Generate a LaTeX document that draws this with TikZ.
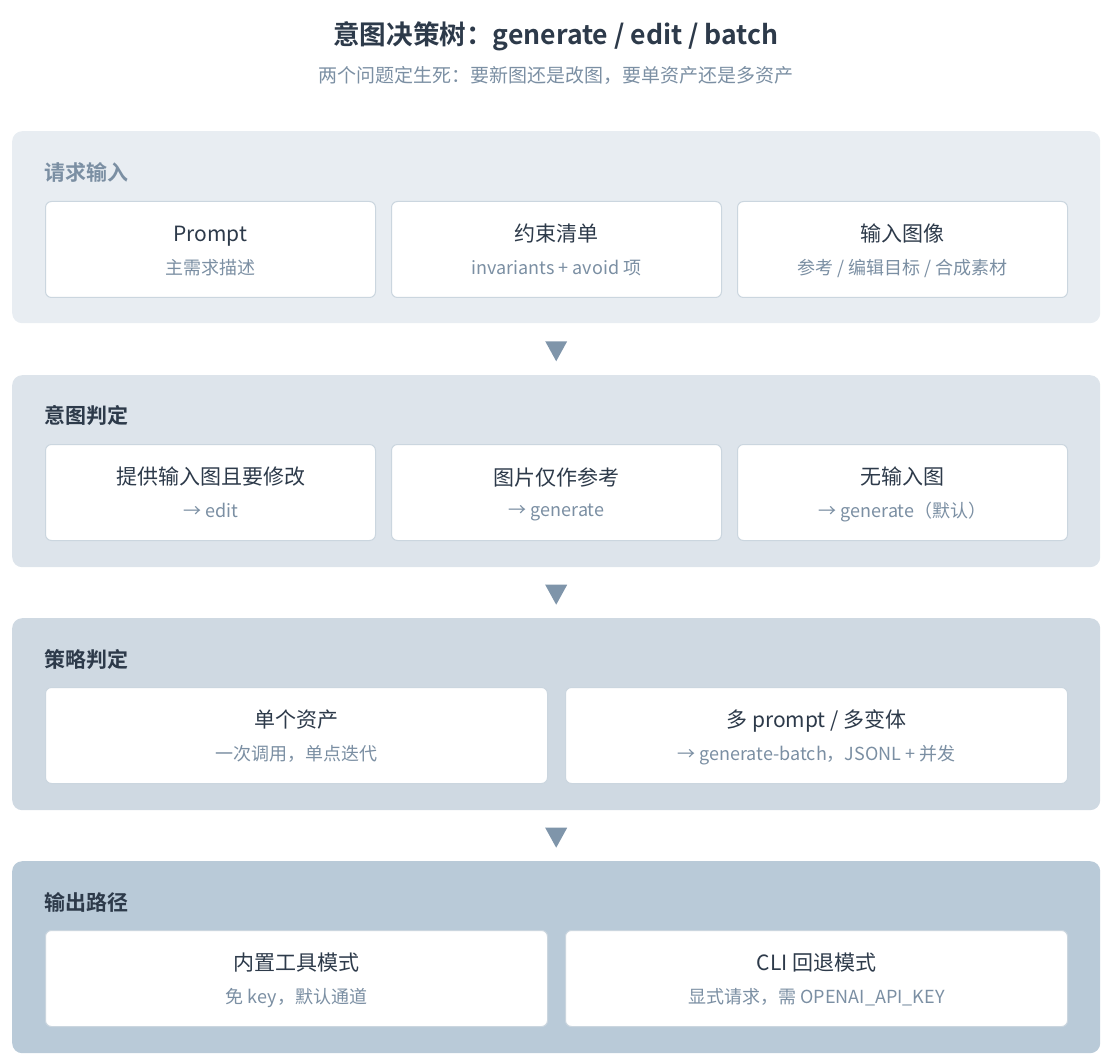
\documentclass[tikz,border=0pt]{standalone}
\usepackage{fontspec}
\setmainfont{Noto Sans CJK SC}[BoldFont={Noto Sans CJK SC Bold}]
\definecolor{ink}{HTML}{2D3A4A}
\definecolor{sub}{HTML}{7B8FA3}
\definecolor{cardline}{HTML}{CBD6DF}
\definecolor{pone}{HTML}{E8EDF2}
\definecolor{ptwo}{HTML}{DDE4EB}
\definecolor{pthree}{HTML}{CFD9E2}
\definecolor{pfour}{HTML}{B9CAD8}
\definecolor{arrowc}{HTML}{7F95AA}
\tikzset{
  panel/.style={fill=#1,rounded corners=10pt,minimum width=1088pt,minimum height=192pt,anchor=north west,inner sep=0pt},
  card/.style={draw=cardline,line width=1pt,fill=white,rounded corners=6pt,minimum height=96pt,anchor=north west,inner sep=0pt,align=center},
  lab/.style={anchor=west,inner sep=0pt,font=\bfseries\fontsize{21}{24}\selectfont,text=ink},
}
\newcommand{\ct}[2]{{\color{ink}\fontsize{21}{25}\selectfont\rule[-6pt]{0pt}{28pt}#1}\\[11pt]{\color{sub}\fontsize{18}{22}\selectfont\rule[-5pt]{0pt}{16pt}#2}}
\begin{document}
\begin{tikzpicture}[x=1pt,y=-1pt]
\useasboundingbox (0,0) rectangle (1110,1064);
\node[font=\bfseries\fontsize{26.6}{30}\selectfont,text=ink] (title) at (556,36) {意图决策树：generate / edit / batch};
\node[font=\fontsize{19}{22}\selectfont,text=sub] (subtitle) at (556,75) {两个问题定生死：要新图还是改图，要单资产还是多资产};
%panels
\node[panel=pone] (p1) at (12,131) {};
\node[panel=ptwo] (p2) at (12,375) {};
\node[panel=pthree] (p3) at (12,618) {};
\node[panel=pfour] (p4) at (12,861) {};
\node[lab,text=sub] (l1) at (44,172) {请求输入};
\node[lab] (l2) at (44,415) {意图判定};
\node[lab] (l3) at (44,659) {策略判定};
\node[lab] (l4) at (44,902) {输出路径};
%cards
\node[card,minimum width=330pt] (c11) at (45,201) {\ct{Prompt}{主需求描述}};
\node[card,minimum width=330pt] (c12) at (391,201) {\ct{约束清单}{invariants + avoid 项}};
\node[card,minimum width=330pt] (c13) at (737,201) {\ct{输入图像}{参考 / 编辑目标 / 合成素材}};
\node[card,minimum width=330pt] (c21) at (45,444) {\ct{提供输入图且要修改}{→ edit}};
\node[card,minimum width=330pt] (c22) at (391,444) {\ct{图片仅作参考}{→ generate}};
\node[card,minimum width=330pt] (c23) at (737,444) {\ct{无输入图}{→ generate（默认）}};
\node[card,minimum width=502pt] (c31) at (45,687) {\ct{单个资产}{一次调用，单点迭代}};
\node[card,minimum width=502pt] (c32) at (565,687) {\ct{多 prompt / 多变体}{→ generate-batch，JSONL + 并发}};
\node[card,minimum width=502pt] (c41) at (45,930) {\ct{内置工具模式}{免 key，默认通道}};
\node[card,minimum width=502pt] (c42) at (565,930) {\ct{CLI 回退模式}{显式请求，需 OPENAI\_API\_KEY}};
%arrows
\foreach \a/\b in {p1/p2,p2/p3,p3/p4}{
  \path (\a.south) -- (\b.north) coordinate[pos=0.54] (m\a);
  \fill[arrowc] (m\a) ++(-11,-10) -- ++(22,0) -- ++(-11,20) -- cycle;
}
\end{tikzpicture}
\end{document}
